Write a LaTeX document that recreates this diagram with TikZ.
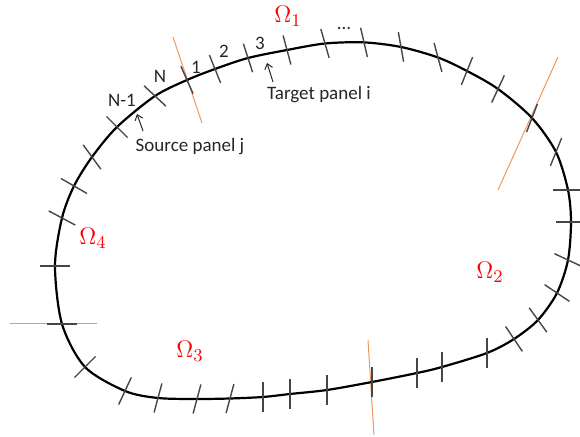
\documentclass[tikz,border=0pt]{standalone}
\usepackage{fontspec}
\setmainfont{Carlito}
\usepackage{tikz}
\usetikzlibrary{arrows.meta}
\usepackage{xcolor}
\definecolor{cutorange}{RGB}{240,150,95}
\definecolor{tickgray}{RGB}{70,70,70}
\definecolor{labelgray}{RGB}{38,38,38}

\begin{document}
\begin{tikzpicture}[x=0.5pt,y=-0.5pt,
    panellabel/.style={labelgray, font=\fontsize{9.5}{11}\selectfont, inner sep=0pt, anchor=base},
    domainlabel/.style={red, font=\fontsize{13}{15}\selectfont, inner sep=0pt, anchor=base},
    tickmark/.style={tickgray, line width=0.7pt},
    cutline/.style={cutorange, line width=0.5pt},
    pointer/.style={labelgray, -{Straight Barb[length=2.5pt,width=4pt]}, line width=0.5pt}]
    \useasboundingbox (0,0) rectangle (580,437);

    % cuts between the four subdomains
    \draw[cutline] (173,37) -- (202,123);
    \draw[cutline] (558,57) -- (498,190);
    \draw[cutline] (368,340) -- (374,435);
    \draw[cutline] (10,324) -- (97,324);

    % boundary of the body
    \draw[line width=1.1pt] plot[smooth cycle, tension=0.5] coordinates {
        (187,80) (215,69) (248,58) (287,50) (325,43.5) (364,42.4) (401,47)
        (438,57.5) (467,71) (498,89) (532,118) (556,152) (568,190) (571,222)
        (568,260) (557,293) (538,320) (514,339) (487,353) (442,367) (417,373)
        (372,382) (327,390) (290,394) (263,397) (230,398.5) (197,399) (158,398)
        (125,391) (85,367) (62,324) (55,266) (62,218) (74,186) (92,157)
        (117,127) (155,96)};

    % panel end points
    \foreach \px/\py/\a in {187/80/66, 215/69/68, 248/58/72, 287/50/75,
        325/43.5/74, 364/42.4/77, 401/47/80, 438/57.5/75, 467/71/112, 498/89/115,
        532/118/111, 556/152/112, 568/190/0, 571/222/0, 568/260/25,
        557/293/34, 538/320/54, 514/339/56, 487/353/90, 442/367/90,
        417/373/90, 372/382/90, 327/390/90, 290/394/90, 263/397/90,
        230/398.5/105, 197/399/105, 158/398/105, 125/391/115, 85/367/135,
        62/324/0, 55/266/0, 62/218/28, 74/186/30, 92/157/54, 117/127/45,
        155/96/43}
        \draw[tickmark] (\px,\py) ++(\a:15) -- ++(\a+180:30);

    % panel numbering
    \node[panellabel] (nm1) at (122,107) {N-1};
    \node[panellabel] (nn) at (160,83) {N};
    \node[panellabel] (n1) at (196,74) {1};
    \node[panellabel] (n2) at (224,58) {2};
    \node[panellabel] (n3) at (260,50) {3};
    \node[panellabel] (ndots) at (344,30) {...};

    \node[panellabel] (target) at (319,100) {Target panel i};
    \coordinate (target tail) at (273,82);
    \coordinate (target tip) at (267,63);
    \draw[pointer] (target tail) -- (target tip);

    \node[panellabel] (source) at (190,152) {Source panel j};
    \coordinate (source tail) at (143,131);
    \coordinate (source tip) at (137,114);
    \draw[pointer] (source tail) -- (source tip);

    % subdomains
    \node[domainlabel] (om1) at (288,23) {$\Omega_1$};
    \node[domainlabel] (om2) at (490,279) {$\Omega_2$};
    \node[domainlabel] (om3) at (190,358) {$\Omega_3$};
    \node[domainlabel] (om4) at (93,245) {$\Omega_4$};
\end{tikzpicture}
\end{document}
